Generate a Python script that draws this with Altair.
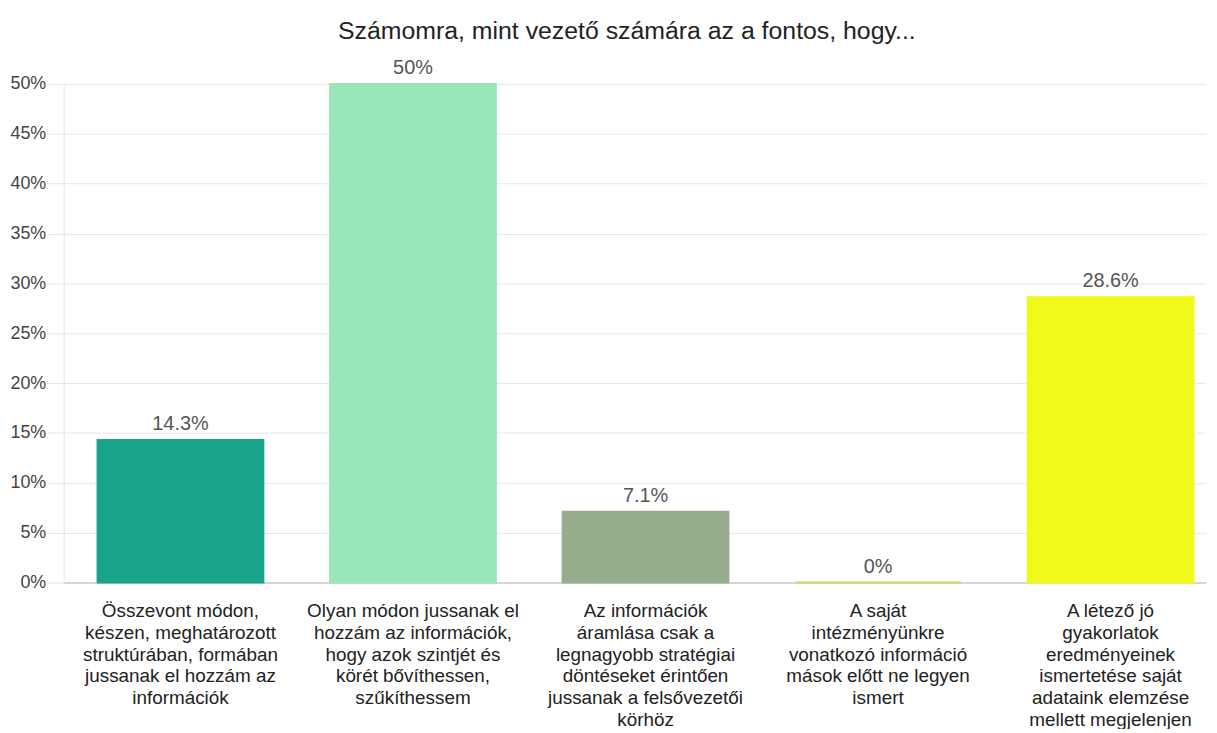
import altair as alt
import pandas as pd

categories = [
    "Összevont módon,|készen, meghatározott|struktúrában, formában|jussanak el hozzám az|információk",
    "Olyan módon jussanak el|hozzám az információk,|hogy azok szintjét és|körét bővíthessen,|szűkíthessem",
    "Az információk|áramlása csak a|legnagyobb stratégiai|döntéseket érintően|jussanak a felsővezetői|körhöz",
    "A saját|intézményünkre|vonatkozó információ|mások előtt ne legyen|ismert",
    "A létező jó|gyakorlatok|eredményeinek|ismertetése saját|adataink elemzése|mellett megjelenjen",
]
values = [14.3, 50, 7.1, 0, 28.6]
value_labels = ["14.3%", "50%", "7.1%", "0%", "28.6%"]
colors = ["#1aa38b", "#99e6b9", "#97ad8b", "#c6e05a", "#f0f91a"]

df = pd.DataFrame({"cat": categories, "val": values, "lab": value_labels, "col": colors})

FONT = "Liberation Sans"

x = alt.X(
    "cat:N",
    sort=categories,
    title=None,
    scale=alt.Scale(paddingInner=0.287, paddingOuter=0.1, align=0.73),
    axis=alt.Axis(
        labelExpr="split(datum.label, '|')",
        labelAngle=0,
        labelFontSize=19,
        labelLineHeight=22,
        labelColor="#222222",
        labelLimit=0,
        labelPadding=19,
        labelFont=FONT,
        ticks=False,
        domainColor="#cccccc",
        domainWidth=1.5,
        grid=False,
    ),
)
y = alt.Y(
    "val:Q",
    title=None,
    scale=alt.Scale(domain=[0, 50], nice=False),
    axis=alt.Axis(
        values=[0, 5, 10, 15, 20, 25, 30, 35, 40, 45, 50],
        labelExpr="datum.value + '%'",
        labelFontSize=18,
        labelColor="#444444",
        labelFont=FONT,
        labelPadding=1,
        tickSize=17,
        tickColor="#e6e6e6",
        domainColor="#e6e6e6",
        gridColor="#e6e6e6",
    ),
)

bars = alt.Chart(df).mark_bar(strokeWidth=2).encode(
    x=x,
    y=y,
    color=alt.Color("col:N", scale=None),
    stroke=alt.Color("col:N", scale=None),
)
texts = alt.Chart(df).mark_text(
    baseline="bottom", dy=-6, fontSize=20, color="#555555", font=FONT
).encode(x=alt.X("cat:N", sort=categories), y="val:Q", text="lab:N")

chart = (
    alt.layer(bars, texts)
    .properties(
        width=1150,
        height=502,
        autosize=alt.AutoSizeParams(type="none"),
        padding={"left": 56, "top": 74, "right": 3, "bottom": 145},
        title=alt.TitleParams(
            "Számomra, mint vezető számára az a fontos, hogy...",
            fontSize=25,
            fontWeight="normal",
            font=FONT,
            color="#222222",
            anchor="middle",
            dx=-8,
            offset=14,
        ),
    )
    .configure_view(stroke=None)
)

chart.save("out.html", embed_options={"renderer": "svg", "actions": False})
